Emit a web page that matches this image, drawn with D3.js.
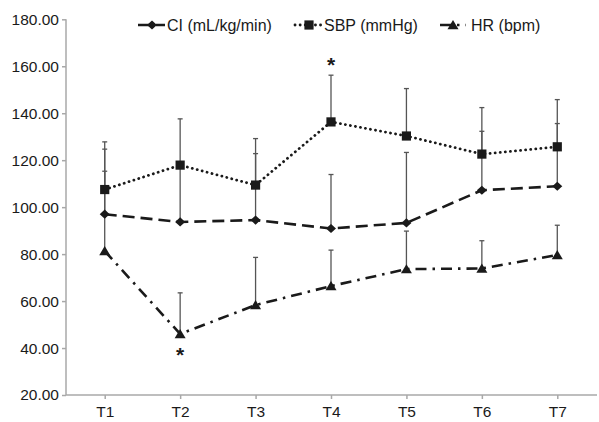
<!DOCTYPE html>
<html>

<head>
  <meta charset="UTF-8">
  <style>
    body { margin: 0; background: #fff; }
    text { font-family: "Liberation Sans", Arial, sans-serif; fill: #1a1a1a; }
  </style>
</head>

<body>
  <svg></svg>
  <script src="https://d3js.org/d3.v7.min.js"></script>
  <script>
    // data
    let times = ["T1", "T2", "T3", "T4", "T5", "T6", "T7"];
    let ci_mean = [97.0, 93.7, 94.5, 90.9, 93.3, 107.2, 108.9];
    let ci_upper = [124.7, 117.0, 122.8, 113.9, 123.3, 132.3, 135.6];
    let sbp_mean = [107.5, 117.9, 109.4, 136.3, 130.3, 122.6, 125.7];
    let sbp_upper = [127.8, 137.6, 129.2, 156.2, 150.5, 142.4, 145.8];
    let hr_mean = [81.3, 46.0, 58.3, 66.4, 73.6, 73.9, 79.6];
    let hr_upper = [115.3, 63.5, 78.6, 81.7, 89.8, 85.7, 92.3];
    let y_ticks = [20, 40, 60, 80, 100, 120, 140, 160, 180];
    // significance marks: [series, time index, above/below]
    let stars = [["sbp", 3, "above"], ["hr", 1, "below"]];

    let width = 599, height = 422;

    let svg = d3.select("svg")
      .attr("width", width)
      .attr("height", height);

    let x = d3.scalePoint()
      .domain(times)
      .range([67, 595])
      .padding(0.5);

    let y = d3.scaleLinear()
      .domain([20, 180])
      .range([395, 19.3]);

    let series = [
      { key: "ci", label: "CI (mL/kg/min)", mean: ci_mean, upper: ci_upper, dash: "12,6", marker: "diamond" },
      { key: "sbp", label: "SBP (mmHg)", mean: sbp_mean, upper: sbp_upper, dash: "0.1,5", cap: "round", marker: "square" },
      { key: "hr", label: "HR (bpm)", mean: hr_mean, upper: hr_upper, dash: "11,6,2.5,6", marker: "triangle" }
    ];

    function markerPath(type) {
      if (type == "square") return "M-4.6,-4.6h9.2v9.2h-9.2z";
      if (type == "diamond") return "M0,-4.6L5,0L0,4.6L-5,0z";
      return "M0,-5L5.5,4.2L-5.5,4.2z";
    }

    // axes
    let yAxis = svg.append("g")
      .attr("transform", "translate(66,0)")
      .call(d3.axisLeft(y).tickValues(y_ticks).tickSize(4).tickPadding(3).tickFormat(d3.format(".2f")));

    let xAxis = svg.append("g")
      .attr("transform", "translate(0,395)")
      .call(d3.axisBottom(x).tickSize(4).tickPadding(7).tickSizeOuter(0));

    svg.selectAll(".domain, .tick line").attr("stroke", "#a8a8a8").attr("stroke-width", 1.5);
    yAxis.select(".domain").attr("d", "M66,19.3V395").attr("transform", "translate(-66,0)");
    xAxis.select(".domain").attr("d", "M66,0H597");
    svg.selectAll(".tick text").style("font-size", "15.5px").attr("fill", "#1a1a1a");

    // error bars (upper side only)
    series.forEach(s => {
      let g = svg.append("g").attr("class", "err_" + s.key);
      times.forEach((t, i) => {
        g.append("line")
          .attr("x1", x(t)).attr("x2", x(t))
          .attr("y1", y(s.mean[i])).attr("y2", y(s.upper[i]))
          .attr("stroke", "#555").attr("stroke-width", 1.3);
        g.append("line")
          .attr("x1", x(t) - 2.5).attr("x2", x(t) + 2.5)
          .attr("y1", y(s.upper[i])).attr("y2", y(s.upper[i]))
          .attr("stroke", "#555").attr("stroke-width", 1.3);
      });
    });

    // lines
    let line = d3.line()
      .x((d, i) => x(times[i]))
      .y(d => y(d));

    series.forEach(s => {
      svg.append("path")
        .datum(s.mean)
        .attr("d", line)
        .attr("fill", "none")
        .attr("stroke", "#1a1a1a")
        .attr("stroke-width", s.key == "sbp" ? 2.8 : 2.6)
        .attr("stroke-linecap", s.cap || "butt")
        .attr("stroke-dasharray", s.dash);
    });

    // markers
    series.forEach(s => {
      svg.append("g")
        .selectAll("path")
        .data(s.mean)
        .enter()
        .append("path")
        .attr("transform", (d, i) => "translate(" + x(times[i]) + "," + y(d) + ")")
        .attr("d", markerPath(s.marker))
        .attr("fill", "#1a1a1a");
    });

    // asterisks
    stars.forEach(st => {
      let s = series.find(e => e.key == st[0]);
      let i = st[1];
      let yy = st[2] == "above" ? y(s.upper[i]) - 3 : y(s.mean[i]) + 28;
      svg.append("text")
        .attr("x", x(times[i]))
        .attr("y", yy)
        .attr("text-anchor", "middle")
        .style("font-size", "21px")
        .style("font-weight", "bold")
        .text("*");
    });

    // legend
    let legend_x = [138, 295, 440];
    let legend = svg.append("g").attr("class", "legend");
    series.forEach((s, i) => {
      let lg = legend.append("g").attr("transform", "translate(" + legend_x[i] + ",25)");
      let len = s.key == "hr" ? 26 : 27;
      lg.append("line")
        .attr("x1", 0).attr("x2", len)
        .attr("y1", 0).attr("y2", 0)
        .attr("stroke", "#1a1a1a")
        .attr("stroke-width", s.key == "sbp" ? 2.8 : 2.6)
        .attr("stroke-linecap", s.cap || "butt")
        .attr("stroke-dasharray", s.dash);
      lg.append("path")
        .attr("transform", "translate(" + (s.key == "hr" ? 13 : 14) + ",0)")
        .attr("d", markerPath(s.marker))
        .attr("fill", "#1a1a1a");
      lg.append("text")
        .attr("x", s.key == "hr" ? 31 : 29)
        .attr("y", 5.5)
        .style("font-size", "16px")
        .text(s.label);
    });
  </script>
</body>

</html>
